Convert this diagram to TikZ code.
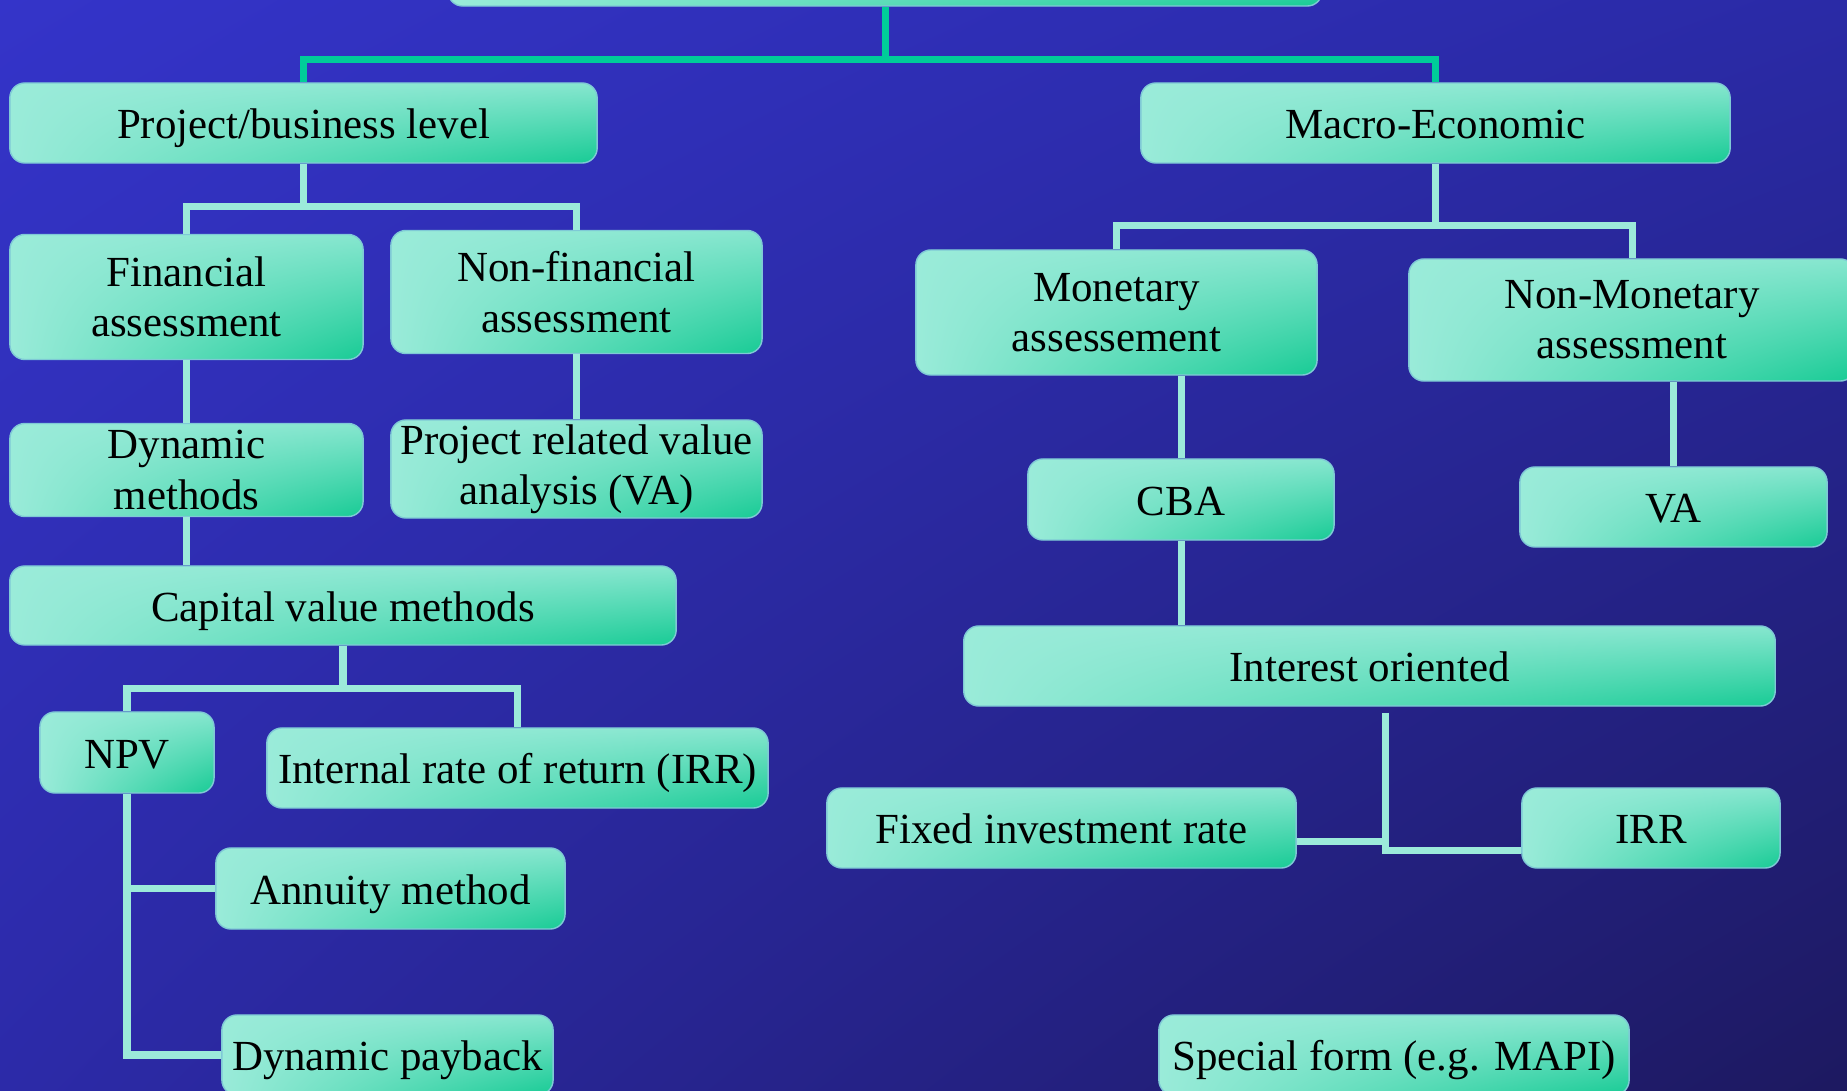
\documentclass[tikz,border=0pt]{standalone}
\usepackage{fontspec}
\setmainfont{Liberation Serif}
\usepackage{xcolor}
\usetikzlibrary{positioning, shadings}

\definecolor{bgtl}{HTML}{3434C9}
\definecolor{bgtr}{HTML}{2A2AA6}
\definecolor{bgbl}{HTML}{2C2AA8}
\definecolor{bgbr}{HTML}{1D1960}
\definecolor{boxlight}{HTML}{9AEBD9}
\definecolor{boxgreen}{HTML}{18CB95}
\definecolor{boxedge}{HTML}{7FC9D6}
\definecolor{linklight}{HTML}{9CEADA}
\definecolor{linkgreen}{HTML}{00CC99}

\begin{document}
\begin{tikzpicture}[
    x=0.01cm, y=-0.01cm,
    box/.style   = {rectangle, rounded corners=0.15cm, align=center,
                    font=\fontsize{12.2}{14.3}\selectfont, inner sep=0pt,
                    draw=boxedge, line width=0.4pt, shade,
                    upper left=boxlight, lower left=boxlight,
                    upper right=boxlight!85!boxgreen, lower right=boxgreen},
    one/.style   = {box, text height=9pt, text depth=0pt},
    two/.style   = {box},
    link/.style  = {draw=linklight, line width=0.07cm},
    trunk/.style = {draw=linkgreen, line width=0.07cm}
]

%% Page and background
\useasboundingbox (0,0) rectangle (1847,1091);
\clip (0,0) rectangle (1847,1091);
\shade[upper left=bgtl, upper right=bgtr, lower left=bgbl, lower right=bgbr]
    (0,0) rectangle (1847,1091);

%% Top level
\node[box, minimum width=8.74cm, minimum height=0.66cm] (top)   at (885,-27) {};
\node[one, minimum width=5.87cm, minimum height=0.80cm] (proj)  at (303.5,123) {Project/business level};
\node[one, minimum width=5.89cm, minimum height=0.80cm] (macro) at (1435.5,123) {Macro-Economic};

%% Project/business branch
\node[two, minimum width=3.53cm, minimum height=1.25cm] (fin)    at (186.5,297) {Financial\\assessment};
\node[two, minimum width=3.71cm, minimum height=1.23cm] (nonfin) at (576.5,292) {Non-financial\\assessment};
\node[two, minimum width=3.53cm, minimum height=0.93cm] (dyn)    at (186.5,470) {Dynamic\\methods};
\node[two, minimum width=3.71cm, minimum height=0.98cm] (prva)   at (576.5,469) {Project related value\\analysis (VA)};
\node[one, minimum width=6.66cm, minimum height=0.79cm] (cap)    at (343,605.5) {Capital value methods};
\node[one, minimum width=1.74cm, minimum height=0.81cm] (npv)    at (127,752.5) {NPV};
\node[one, minimum width=5.01cm, minimum height=0.80cm] (irrp)   at (517.5,768) {Internal rate of return (IRR)};
\node[one, minimum width=3.49cm, minimum height=0.81cm] (ann)    at (390.5,888.5) {Annuity method};
\node[one, minimum width=3.31cm, minimum height=0.80cm] (dpb)    at (387.5,1055) {Dynamic payback};

%% Macro-economic branch
\node[two, minimum width=4.01cm, minimum height=1.25cm] (monet)  at (1116.5,312.5) {Monetary\\assessement};
\node[two, minimum width=4.46cm, minimum height=1.22cm] (nonmon) at (1632,320) {Non-Monetary\\assessment};
\node[one, minimum width=3.06cm, minimum height=0.81cm] (cba)    at (1181,499.5) {CBA};
\node[one, minimum width=3.07cm, minimum height=0.80cm] (va)     at (1673.5,507) {VA};
\node[one, minimum width=8.11cm, minimum height=0.80cm] (intr)   at (1369.5,666) {Interest oriented};
\node[one, minimum width=4.69cm, minimum height=0.80cm] (fix)    at (1061.5,828) {Fixed investment rate};
\node[one, minimum width=2.58cm, minimum height=0.80cm] (irrm)   at (1651,828) {IRR};
\node[one, minimum width=4.70cm, minimum height=0.80cm] (spec)   at (1394,1055) {Special form (e.g. MAPI)};

%% Trunk
\draw[trunk] (top.south) -- ++(0,53) -| (proj.north);
\draw[trunk] (top.south) -- ++(0,53) -| (macro.north);

%% Project/business connectors
\draw[link] (proj.south) -- ++(0,43) -| (fin.north);
\draw[link] (proj.south) -- ++(0,43) -| (nonfin.north);
\draw[link] (fin.south) -- (dyn.north);
\draw[link] (nonfin.south) -- (prva.north);
\draw[link] (dyn.south) -- (dyn.south |- cap.north);
\draw[link] (cap.south) -- ++(0,43) -| (npv.north);
\draw[link] (cap.south) -- ++(0,43) -| (irrp.north);
\draw[link] (npv.south) |- (dpb.west);
\draw[link] (npv.south |- ann.west) -- (ann.west);

%% Macro-economic connectors
\draw[link] (macro.south) -- ++(0,62) -| (monet.north);
\draw[link] (macro.south) -- ++(0,62) -| (nonmon.north);
\draw[link] (cba.north |- monet.south) -- (cba.north);
\draw[link] (va.north |- nonmon.south) -- (va.north);
\draw[link] (cba.south) -- (cba.south |- intr.north);
\coordinate (ibus) at (1385,713);
\draw[link] (ibus) |- ([yshift=-0.13cm]fix.east);
\draw[link] (ibus) |- ([yshift=-0.22cm]irrm.west);

\end{tikzpicture}
\end{document}
